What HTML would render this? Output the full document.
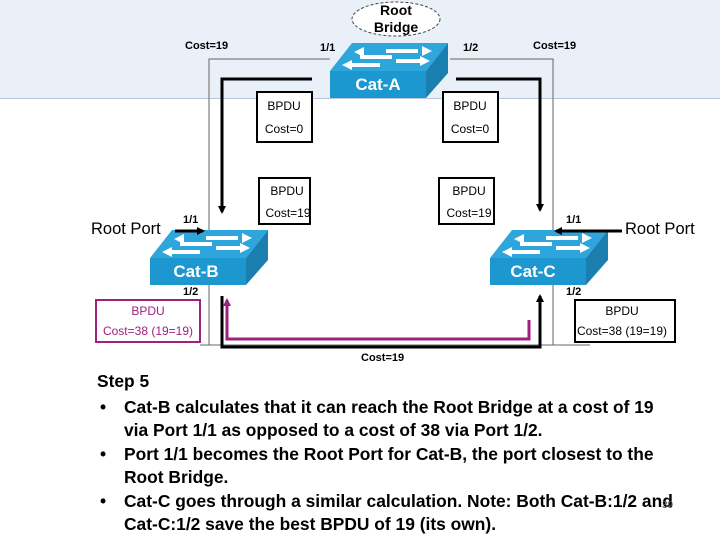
<!DOCTYPE html>
<html><head><meta charset="utf-8"><style>
body{margin:0;width:720px;height:540px;background:#fff;overflow:hidden;position:relative;font-family:"Liberation Sans",sans-serif}
.band{position:absolute;left:0;top:0;width:720px;height:98px;background:#e9f0f7;border-bottom:1px solid #b8c8d8}
.t{position:absolute;font-size:17.4px;font-weight:bold;color:#000;white-space:nowrap}
</style></head><body>
<div class="band"></div>
<svg width="720" height="540" style="position:absolute;left:0;top:0" font-family="Liberation Sans, sans-serif">
<defs>
<marker id="ab" markerWidth="8" markerHeight="8" refX="6" refY="4" orient="auto" markerUnits="userSpaceOnUse"><path d="M0,0 L8,4 L0,8z" fill="#000"/></marker>
<marker id="ap" markerWidth="8" markerHeight="8" refX="6" refY="4" orient="auto" markerUnits="userSpaceOnUse"><path d="M0,0 L8,4 L0,8z" fill="#a0207f"/></marker>
<g id="sw">
<polygon points="0,28 22,0 118,0 96,28" fill="#2ea6db"/>
<polygon points="96,28 118,0 118,30 96,55" fill="#1a7fae"/>
<rect x="0" y="28" width="96" height="27" fill="#1d97d0"/>
<path d="M30,14 L62,14 M18,22 L50,22" stroke="#fff" stroke-width="4"/>
<path d="M56,8 L88,8 M66,18 L92,18" stroke="#fff" stroke-width="4"/>
<polygon points="24,9 34,4 34,14" fill="#fff"/><polygon points="92,3 102,8 92,13" fill="#fff"/>
<polygon points="12,22 22,17 22,27" fill="#fff"/><polygon points="90,13 100,18 90,23" fill="#fff"/>
</g>
</defs>
<ellipse cx="396" cy="19" rx="44" ry="17" fill="#fff" stroke="#444" stroke-dasharray="3,2"/>
<text x="396" y="15" font-size="14" font-weight="bold" text-anchor="middle">Root</text>
<text x="396" y="32" font-size="14" font-weight="bold" text-anchor="middle">Bridge</text>
<g font-size="11" font-weight="bold">
<text x="185" y="49">Cost=19</text><text x="320" y="51">1/1</text><text x="463" y="51">1/2</text><text x="533" y="49">Cost=19</text>
<text x="183" y="223">1/1</text><text x="566" y="223">1/1</text><text x="183" y="295">1/2</text><text x="566" y="295">1/2</text>
<text x="361" y="361">Cost=19</text>
</g>
<path d="M209,345 L209,59 L330,59 M450,59 L553,59 L553,345 M200,345 L590,345" fill="none" stroke="#666" stroke-width="1"/>
<use href="#sw" x="330" y="43"/>
<text x="378" y="90" font-size="17" font-weight="bold" fill="#fff" text-anchor="middle">Cat-A</text>
<use href="#sw" x="150" y="230"/>
<text x="196" y="277" font-size="17" font-weight="bold" fill="#fff" text-anchor="middle">Cat-B</text>
<use href="#sw" x="490" y="230"/>
<text x="533" y="277" font-size="17" font-weight="bold" fill="#fff" text-anchor="middle">Cat-C</text>
<path d="M312,79 L222,79 L222,212" fill="none" stroke="#000" stroke-width="3" marker-end="url(#ab)"/>
<path d="M456,79 L540,79 L540,210" fill="none" stroke="#000" stroke-width="3" marker-end="url(#ab)"/>
<path d="M175,231 L203,231" stroke="#000" stroke-width="3" marker-end="url(#ab)"/>
<path d="M622,231 L556,231" stroke="#000" stroke-width="3" marker-end="url(#ab)"/>
<path d="M222,296 L222,347 L540,347 L540,296" fill="none" stroke="#000" stroke-width="3" marker-end="url(#ab)"/>
<path d="M529,320 L529,339 L227,339 L227,300" fill="none" stroke="#a0207f" stroke-width="3" marker-end="url(#ap)"/>
<g font-size="12" text-anchor="middle" fill="#000">
<rect x="257" y="92" width="55" height="50" fill="#fff" stroke="#000" stroke-width="2"/>
<text x="284" y="110">BPDU</text><text x="284" y="133">Cost=0</text>
<rect x="443" y="92" width="55" height="50" fill="#fff" stroke="#000" stroke-width="2"/>
<text x="470" y="110">BPDU</text><text x="470" y="133">Cost=0</text>
<rect x="259" y="178" width="51" height="46" fill="#fff" stroke="#000" stroke-width="2"/>
<text x="287" y="195">BPDU</text><text x="288" y="217">Cost=19</text>
<rect x="439" y="178" width="55" height="46" fill="#fff" stroke="#000" stroke-width="2"/>
<text x="469" y="195">BPDU</text><text x="469" y="217">Cost=19</text>
<rect x="96" y="300" width="104" height="42" fill="#fff" stroke="#a0207f" stroke-width="2"/>
<text x="148" y="315" fill="#a0207f">BPDU</text><text x="148" y="335" fill="#a0207f">Cost=38 (19=19)</text>
<rect x="575" y="300" width="100" height="42" fill="#fff" stroke="#000" stroke-width="2"/>
<text x="622" y="315">BPDU</text><text x="622" y="335">Cost=38 (19=19)</text>
</g>
<text x="91" y="234" font-size="16.5">Root Port</text>
<text x="625" y="234" font-size="16.5">Root Port</text>
</svg>
<div class="t" style="left:97px;top:371px">Step 5</div>
<div class="t" style="left:100px;top:397px">•</div><div class="t" style="left:124px;top:397px">Cat-B calculates that it can reach the Root Bridge at a cost of 19</div>
<div class="t" style="left:124px;top:420px">via Port 1/1 as opposed to a cost of 38 via Port 1/2.</div>
<div class="t" style="left:100px;top:444px">•</div><div class="t" style="left:124px;top:444px">Port 1/1 becomes the Root Port for Cat-B, the port closest to the</div>
<div class="t" style="left:124px;top:467px">Root Bridge.</div>
<div class="t" style="left:100px;top:491px">•</div><div class="t" style="left:124px;top:491px">Cat-C goes through a similar calculation. Note: Both Cat-B:1/2 and</div>
<div class="t" style="left:124px;top:514px">Cat-C:1/2 save the best BPDU of 19 (its own).</div>
<div style="position:absolute;left:662px;top:500px;font-size:10px;color:#555">39</div>
</body></html>
